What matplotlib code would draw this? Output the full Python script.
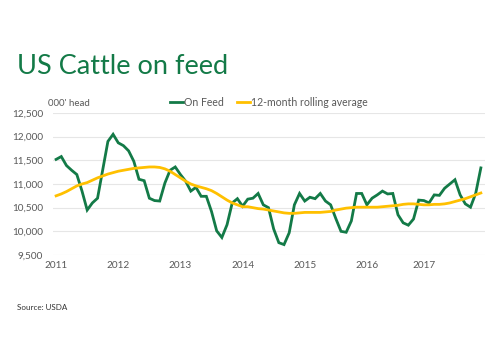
import matplotlib
matplotlib.use("Agg")
import matplotlib.pyplot as plt
from matplotlib.ticker import FuncFormatter

# monthly cattle on feed, '000 head, Jan 2011 onwards
on_feed = [11520, 11580, 11390, 11290, 11200, 10850, 10450, 10600, 10700, 11300,
           11900, 12050, 11870, 11810, 11700, 11480, 11100, 11070, 10700, 10650,
           10640, 11020, 11290, 11360, 11200, 11060, 10850, 10930, 10740, 10740,
           10420, 10010, 9870, 10140, 10600, 10690, 10530, 10680, 10700, 10800,
           10560, 10500, 10050, 9760, 9720, 9970, 10560, 10800, 10640, 10720,
           10690, 10800, 10640, 10560, 10270, 10000, 9980, 10220, 10800, 10800,
           10560, 10700, 10770, 10850, 10790, 10800, 10350, 10180, 10130, 10260,
           10660, 10650, 10600, 10770, 10760, 10910, 11000, 11090, 10770, 10580,
           10510, 10800, 11340]

rolling_avg = [10750, 10790, 10840, 10900, 10960, 11000, 11030, 11080, 11130, 11170,
               11210, 11240, 11270, 11290, 11310, 11330, 11340, 11350, 11360, 11360,
               11350, 11320, 11270, 11200, 11130, 11060, 11000, 10960, 10930, 10900,
               10860, 10800, 10730, 10660, 10600, 10560, 10520, 10520, 10500, 10480,
               10470, 10450, 10430, 10410, 10390, 10380, 10380, 10390, 10400, 10400,
               10400, 10400, 10410, 10420, 10450, 10470, 10490, 10500, 10510, 10510,
               10510, 10510, 10510, 10520, 10530, 10540, 10550, 10570, 10580, 10580,
               10570, 10560, 10560, 10570, 10570, 10580, 10600, 10630, 10660, 10690,
               10730, 10770, 10810]

year_labels = ["2011", "2012", "2013", "2014", "2015", "2016", "2017"]
year_pos = [0, 12, 24, 36, 48, 60, 71]

green = "#137a47"
gold = "#ffc000"
grey = "#595959"

plt.rcParams["font.family"] = ["Lato", "DejaVu Sans"]

fig = plt.figure(figsize=(5, 3.45), dpi=100)
ax = fig.add_axes([53 / 500, 1 - 255 / 345, 432 / 500, 142 / 345])

x = list(range(len(on_feed)))
ax.plot(x, on_feed, color=green, lw=2.0, label="On Feed", solid_joinstyle="miter")
ax.plot(x, rolling_avg, color=gold, lw=2.0, label="12-month rolling average")

ax.set_xlim(-0.6, 82.8)
ax.set_ylim(9500, 12500)
ax.set_yticks(range(9500, 12501, 500))
ax.yaxis.set_major_formatter(FuncFormatter(lambda v, p: f"{int(v):,}"))
ax.set_xticks(year_pos)
ax.set_xticklabels(year_labels)

ax.grid(axis="y", color="#e6e6e6", lw=0.8)
ax.set_axisbelow(True)
for s in ax.spines.values():
    s.set_visible(False)
ax.tick_params(length=0, labelsize=7.2, colors=grey, pad=4)
ax.tick_params(axis="y", pad=7)

ax.legend(loc="lower center", bbox_to_anchor=(0.5, 1.0), ncol=2, frameon=False,
          fontsize=7.6, labelcolor=grey, handlelength=1.2, handletextpad=0.15,
          columnspacing=1.2, borderaxespad=0.1)

fig.text(48 / 500, 1 - 103 / 345, "000' head", fontsize=7, color=grey, va="center")
fig.text(17 / 500, 1 - 66 / 345, "US Cattle on feed", fontsize=19.5, color=green, va="center")
fig.text(17 / 500, 1 - 307 / 345, "Source: USDA", fontsize=5.8, color="#333333", va="center")

fig.savefig("out.png", dpi=100, facecolor="white")
